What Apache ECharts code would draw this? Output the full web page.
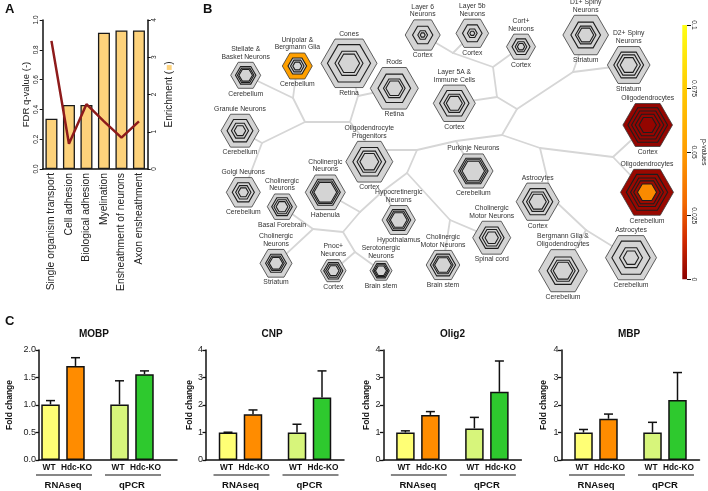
<!DOCTYPE html>
<html><head><meta charset="utf-8">
<script src="https://cdn.jsdelivr.net/npm/echarts/dist/echarts.min.js"></script>
<style>html,body{margin:0;padding:0;background:#fff}#c{width:708px;height:491px}</style>
</head><body><div id="c"></div>
<script>
// ---------- Panel A data ----------
const goTerms = ['Single organism transport','Cell adhesion','Biological adhesion','Myelination','Ensheathment of neurons','Axon ensheathment'];
const enrichment = [1.35, 1.72, 1.72, 3.66, 3.72, 3.72];
const fdrQ = [0.86, 0.17, 0.435, 0.32, 0.21, 0.32];

// ---------- Panel B data ----------
const cellTypes = ['Stellate &\nBasket Neurons','Unipolar &\nBergmann Glia','Cones','Rods','Layer 6\nNeurons','Layer 5b\nNeurons','Cort+\nNeurons','Layer 5A &\nImmune Cells','D1+ Spiny\nNeurons','D2+ Spiny\nNeurons','Granule Neurons','Oligodendrocyte\nProgenitors','Golgi Neurons','Cholinergic\nNeurons','Cholinergic\nNeurons','Hypocretinergic\nNeurons','Cholinergic\nNeurons','Pnoc+\nNeurons','Serotonergic\nNeurons','Cholinergic\nMotor Neurons','Purkinje Neurons','Cholinergic\nMotor Neurons','Astrocytes','Bergmann Glia &\nOligodendrocytes','Astrocytes','Oligodendrocytes','Oligodendrocytes'];
const brainRegions = ['Cerebellum','Cerebellum','Retina','Retina','Cortex','Cortex','Cortex','Cortex','Striatum','Striatum','Cerebellum','Cortex','Cerebellum','Basal Forebrain','Habenula','Hypothalamus','Striatum','Cortex','Brain stem','Brain stem','Cerebellum','Spinal cord','Cortex','Cerebellum','Cerebellum','Cortex','Cerebellum'];
// p-value per ring (outer -> inner); null = not significant
const ringPValues = {1:[0.052,null,null,null], 25:[0.002,0.002,0.002,0.002,0.002], 26:[0.003,0.003,0.003,0.004,0.043]};
const pTickMax = 0.1, pTickStep = 0.025;

// ---------- Panel C data ----------
const genes = ['MOBP','CNP','Olig2','MBP'];
const methods = ['RNAseq','qPCR'];
const genotypes = ['WT','Hdc-KO'];
const wtMean  = [[1.01,1.01],[1.00,1.00],[1.00,1.15],[1.00,1.00]];
const wtUpper = [[1.08,1.44],[1.01,1.30],[1.06,1.55],[1.11,1.37]];
const koMean  = [[1.71,1.56],[1.66,2.27],[1.64,2.48],[1.50,2.18]];
const koUpper = [[1.86,1.62],[1.82,3.24],[1.76,3.60],[1.67,3.18]];
const yMax = [2,4,4,4];
const yStep = [0.5,1,1,1];

// ---------- layout (positions / sizes) ----------
const nodeLayout = [[245.7,75.3,15],[297.3,66,15],[349,63.3,28],[394.3,88.3,24],[422.7,35,17.5],[472.3,33.3,16.3],[521,46.7,14.5],[454.3,103.3,21],[585.7,35,22.8],[628.7,65,21.3],[240,130.7,19],[369.3,161.7,23.5],[243.3,192.3,17],[282,206.7,14.7],[325.3,192.3,20],[398.7,220,16.7],[276,263.3,16],[333.3,270.7,12.7],[381,270.7,11],[443,265,16.8],[473.3,171,19.7],[491.7,237.7,19],[537.7,201.7,21.5],[563,270.7,24.3],[631,257.7,25.5],[647.7,125,24.8],[647,192.3,26.5]];
const ringScale = [[0.68,0.55,0.45],[0.62,0.45,0.3],[0.77,0.5,0.38],[0.68,0.45,0.35],[0.58,0.28,0.14],[0.6,0.3,0.15],[0.62,0.4,0.25],[0.7,0.5,0.38],[0.65,0.45,0.35],[0.7,0.55,0.4],[0.68,0.45,0.3],[0.7,0.52,0.4],[0.65,0.45,0.3],[0.7,0.55,0.4],[0.75,0.65,0.57],[0.72,0.6,0.5],[0.65,0.52,0.42],[0.75,0.6,0.45],[0.75,0.62,0.5],[0.75,0.6,0.5],[0.75,0.66,0.57],[0.65,0.5,0.35],[0.7,0.52,0.4],[0.65,0.5,0.4],[0.75,0.45,0.3],[0.8,0.65,0.5,0.35],[0.78,0.62,0.5,0.36]];
const junctions = {a:[293,98],b:[305,122],c:[262,143],d:[350,122],e:[358,96],f:[372,150],g:[417,150],h:[407,173],i:[383,191],j:[360,212],k:[343,232],l:[313,229],m:[355,252],n:[450,220],o:[456,141],p:[502,135],q:[517,109],r:[497,97],s:[493,67],t:[453,53],u:[573,72],v:[540,148],w:[613,157],x:[552,198],y:[586,230]};
const treeEdges = [['a',0],['a',1],['a','b'],['b','c'],['c',10],['c',12],['b','d'],['d','e'],['e',2],['e',3],['d','f'],['f',11],['f','g'],['g','h'],['h','i'],['i',15],['i','j'],['j',14],['j','k'],['k','l'],['l',13],['l',16],['k','m'],['m',17],['m',18],['h','n'],['n',19],['n',21],['g','o'],['o',20],['o','p'],['p','q'],['q','r'],['r',7],['r','s'],['s',6],['s','t'],['t',4],['t',5],['q','u'],['u',8],['u',9],['p','v'],['v','w'],['w',25],['w',26],['v','x'],['x',22],['x','y'],['y',23],['y',24]];

const FONT = '"Liberation Sans", Arial, Helvetica, sans-serif';
const pStops = [[0,'#8b0000'],[0.015,'#d02800'],[0.03,'#f26800'],[0.05,'#ff9c00'],[0.075,'#ffcb00'],[0.1,'#ffff14']];
function hex2rgb(h){return [1,3,5].map(i=>parseInt(h.substr(i,2),16));}
function pColor(p){
  for (let k=1;k<pStops.length;k++){
    if (p<=pStops[k][0]){
      const a=pStops[k-1], b=pStops[k], t=(p-a[0])/(b[0]-a[0]);
      const ca=hex2rgb(a[1]), cb=hex2rgb(b[1]);
      return 'rgb('+ca.map((v,i)=>Math.round(v+(cb[i]-v)*t)).join(',')+')';
    }
  }
  return pStops[pStops.length-1][1];
}
function pt(key){ return typeof key==='number' ? nodeLayout[key].slice(0,2) : junctions[key]; }
function hexPoints(cx,cy,R){ const pts=[]; for(let k=0;k<6;k++){const a=Math.PI/3*k; pts.push([cx+R*Math.cos(a), cy+R*Math.sin(a)]);} return pts; }

const chart = echarts.init(document.getElementById('c'));

// ---------- build option ----------
const grids = [], xAxes = [], yAxes = [], series = [];
const blk = '#111';

// Panel A
grids.push({left:42.7, top:20, width:105, height:149});
xAxes.push({gridIndex:0, type:'category', data:goTerms,
  axisLine:{lineStyle:{color:blk,width:1.5}}, axisTick:{alignWithLabel:true,length:3,lineStyle:{color:blk,width:1.2}},
  axisLabel:{rotate:90, interval:0, fontSize:10.3, color:'#222', margin:4, fontFamily:FONT}});
yAxes.push({gridIndex:0, type:'value', min:0, max:1, interval:0.2, position:'left',
  axisLine:{show:true,lineStyle:{color:blk,width:1.5}}, axisTick:{show:true,length:3,lineStyle:{color:blk}}, splitLine:{show:false},
  axisLabel:{rotate:90, fontSize:6.5, color:'#222', margin:3, formatter:v=>v.toFixed(1)},
  name:'FDR q-value (-)', nameLocation:'middle', nameRotate:90, nameGap:11, nameTextStyle:{fontSize:9.5,color:'#222'}});
yAxes.push({gridIndex:0, type:'value', min:0, max:4, interval:1, position:'right',
  axisLine:{show:true,lineStyle:{color:blk,width:1.5}}, axisTick:{show:true,length:3,lineStyle:{color:blk}}, splitLine:{show:false},
  axisLabel:{rotate:90, fontSize:6.5, color:'#222', margin:3},
  name:'Enrichment ({sq|■})', nameLocation:'middle', nameRotate:90, nameGap:17,
  nameTextStyle:{fontSize:10,color:'#222', rich:{sq:{color:'#fdd27b',fontSize:10}}}});
series.push({type:'bar', xAxisIndex:0, yAxisIndex:1, data:enrichment, barWidth:12,
  itemStyle:{color:'#fdd27b', borderColor:'#1a1a1a', borderWidth:1.3}});
series.push({type:'line', xAxisIndex:0, yAxisIndex:0, data:fdrQ, symbol:'none', lineStyle:{color:'#8e1b1b',width:2.5}, z:5});

// Panel C
const cLeft = [28.5, 206, 383.4, 561.5];
const cNameGap = [24.5, 10.5, 12, 13.5];
const wtColors = ['#ffff75','#d7f57b'];
const koColors = ['#ff8c00','#2ec92e'];
function errRender(params, api){
  const cat=api.value(0), side=api.value(3);
  const base=api.coord([cat, api.value(1)]), top=api.coord([cat, api.value(2)]);
  const x=base[0]+side*12.5;
  return {type:'group', children:[
    {type:'line', shape:{x1:x,y1:base[1],x2:x,y2:top[1]}, style:{stroke:blk,lineWidth:1.5}},
    {type:'line', shape:{x1:x-4.5,y1:top[1],x2:x+4.5,y2:top[1]}, style:{stroke:blk,lineWidth:1.5}}]};
}
function underRender(params, api){
  const p=api.coord([api.value(0),0]);
  return {type:'line', shape:{x1:p[0]-27,y1:p[1]+15,x2:p[0]+29,y2:p[1]+15}, style:{stroke:blk,lineWidth:1.2}};
}
genes.forEach((g,i)=>{
  const gi = grids.length;
  grids.push({left:cLeft[i], top:350, width:138, height:110});
  const xi = xAxes.length, yi = yAxes.length;
  xAxes.push({gridIndex:gi, type:'category', data:methods,
    axisLine:{show:i!==0, lineStyle:{color:blk,width:1.5}}, axisTick:{show:false},
    axisLabel:{fontSize:9.5, fontWeight:'bold', color:'#111', margin:20, fontFamily:FONT}});
  yAxes.push({gridIndex:gi, type:'value', min:0, max:yMax[i], interval:yStep[i], offset: i===0 ? -10.5 : 0,
    axisLine:{show:true,lineStyle:{color:blk,width:1.5}}, axisTick:{show:true,length:3.5,lineStyle:{color:blk,width:1.3}}, splitLine:{show:false},
    axisLabel:{fontSize:9, color:'#222', margin:3, formatter: i===0 ? (v=>v.toFixed(1)) : (v=>String(v))},
    name:'Fold change', nameLocation:'middle', nameRotate:90, nameGap:cNameGap[i], nameTextStyle:{fontSize:8.5,fontWeight:'bold',color:'#111'}});
  const lbl = {show:true, position:'bottom', distance:4, fontSize:8.3, fontWeight:'bold', color:'#111', fontFamily:FONT};
  series.push({type:'bar', name:genotypes[0], xAxisIndex:xi, yAxisIndex:yi, barWidth:18.5, barGap:'35%',
    data: wtMean[i].map((v,k)=>({value:v, itemStyle:{color:wtColors[k]}})),
    itemStyle:{borderColor:blk,borderWidth:1.5}, label:Object.assign({formatter:genotypes[0], offset:[-1.5,0]}, lbl)});
  series.push({type:'bar', name:genotypes[1], xAxisIndex:xi, yAxisIndex:yi, barWidth:18.5, barGap:'35%',
    data: koMean[i].map((v,k)=>({value:v, itemStyle:{color:koColors[k]}})),
    itemStyle:{borderColor:blk,borderWidth:1.5}, label:Object.assign({formatter:genotypes[1], offset:[1,0]}, lbl)});
  const errData = [];
  methods.forEach((m,k)=>{ errData.push([k, wtMean[i][k], wtUpper[i][k], -1]); errData.push([k, koMean[i][k], koUpper[i][k], 1]); });
  series.push({type:'custom', xAxisIndex:xi, yAxisIndex:yi, renderItem:errRender, data:errData, z:4});
  series.push({type:'custom', xAxisIndex:xi, yAxisIndex:yi, renderItem:underRender, data:[[0,0],[1,0]], clip:false});
});
// helper axis line for MOBP
const hg = grids.length;
grids.push({left:39, top:350, width:138, height:110});
xAxes.push({gridIndex:hg, type:'value', min:0, max:1, axisLine:{show:true,onZero:false,lineStyle:{color:blk,width:1.5}}, axisTick:{show:false}, axisLabel:{show:false}, splitLine:{show:false}});
yAxes.push({gridIndex:hg, type:'value', min:0, max:1, show:false});
series.push({type:'line', xAxisIndex:xAxes.length-1, yAxisIndex:yAxes.length-1, data:[]});

// Panel B network
const ng = grids.length;
grids.push({left:200, top:0, width:480, height:300});
xAxes.push({gridIndex:ng, type:'value', min:200, max:680, show:false});
yAxes.push({gridIndex:ng, type:'value', min:0, max:300, inverse:true, show:false});
const nx = xAxes.length-1, ny = yAxes.length-1;
const edgeData = treeEdges.map(e=>{const p1=pt(e[0]), p2=pt(e[1]); return [p1[0],p1[1],p2[0],p2[1]];});
series.push({type:'custom', xAxisIndex:nx, yAxisIndex:ny, data:edgeData, z:1, clip:false,
  renderItem:(params,api)=>{const a=api.coord([api.value(0),api.value(1)]), b=api.coord([api.value(2),api.value(3)]);
    return {type:'line', shape:{x1:a[0],y1:a[1],x2:b[0],y2:b[1]}, style:{stroke:'#d6d6d6',lineWidth:1.8,lineCap:'round'}};}});
series.push({type:'custom', xAxisIndex:nx, yAxisIndex:ny, z:3, clip:false,
  data: nodeLayout.map((n,i)=>[n[0],n[1],n[2],i]),
  renderItem:(params,api)=>{
    const i=api.value(3), c=api.coord([api.value(0),api.value(1)]), R=api.size([api.value(2),0])[0];
    const ratios=[1].concat(ringScale[i]); const pv=ringPValues[i];
    const ch=[];
    ratios.forEach((k,j)=>{ const p = pv ? pv[j] : null;
      ch.push({type:'polygon', shape:{points:hexPoints(c[0],c[1],R*k)},
        style:{fill: p==null ? '#d4d4d4' : pColor(p), stroke: j===0 ? '#3a3a3a' : '#1e1e1e', lineWidth: j===0 ? 0.8 : 1.1}}); });
    const hh=R*Math.sqrt(3)/2;
    const ts={align:'center', textAlign:'center', fontSize:6.8, fontFamily:FONT, fill:'#333', lineHeight:7.8};
    ch.push({type:'text', x:c[0], y:c[1]-hh-1.5, style:Object.assign({text:cellTypes[i], verticalAlign:'bottom', textVerticalAlign:'bottom'}, ts)});
    ch.push({type:'text', x:c[0], y:c[1]+hh+1.5, style:Object.assign({text:brainRegions[i], verticalAlign:'top', textVerticalAlign:'top'}, ts)});
    return {type:'group', children:ch};
  }});

// colour bar
const cg = grids.length;
grids.push({left:682.3, top:25, width:8.4, height:254.3});
xAxes.push({gridIndex:cg, type:'category', data:['p'], show:false});
yAxes.push({gridIndex:cg, type:'value', min:0, max:pTickMax, interval:pTickStep, position:'right',
  axisLine:{show:false}, axisTick:{show:true,length:4,lineStyle:{color:blk,width:1}}, splitLine:{show:false},
  axisLabel:{rotate:-90, fontSize:6.8, color:'#222', margin:3},
  name:'p-values', nameLocation:'middle', nameRotate:-90, nameGap:13, nameTextStyle:{fontSize:7,color:'#222'}});
series.push({type:'bar', xAxisIndex:xAxes.length-1, yAxisIndex:yAxes.length-1, data:[pTickMax], barWidth:'100%',
  itemStyle:{color:{type:'linear',x:0,y:0,x2:0,y2:1, colorStops: pStops.slice().reverse().map(s=>({offset:1-s[0]/pTickMax, color:s[1]}))}}});

// texts
const gtext = [
  {t:'A', x:5, y:3, f:'bold 13px '+FONT, a:'left'},
  {t:'B', x:203, y:3, f:'bold 13px '+FONT, a:'left'},
  {t:'C', x:5, y:315, f:'bold 13px '+FONT, a:'left'},
  {t:genes[0], x:94, y:329, f:'bold 10px '+FONT, a:'center'},
  {t:genes[1], x:272, y:329, f:'bold 10px '+FONT, a:'center'},
  {t:genes[2], x:452.5, y:329, f:'bold 10px '+FONT, a:'center'},
  {t:genes[3], x:629, y:329, f:'bold 10px '+FONT, a:'center'}
].map(o=>({type:'text', x:o.x, y:o.y, style:{text:o.t, font:o.f, fill:'#111', align:o.a, textAlign:o.a, verticalAlign:'top'}}));

chart.setOption({
  animation:false,
  textStyle:{fontFamily:FONT},
  grid:grids, xAxis:xAxes, yAxis:yAxes, series:series, graphic:gtext
});
</script></body></html>
